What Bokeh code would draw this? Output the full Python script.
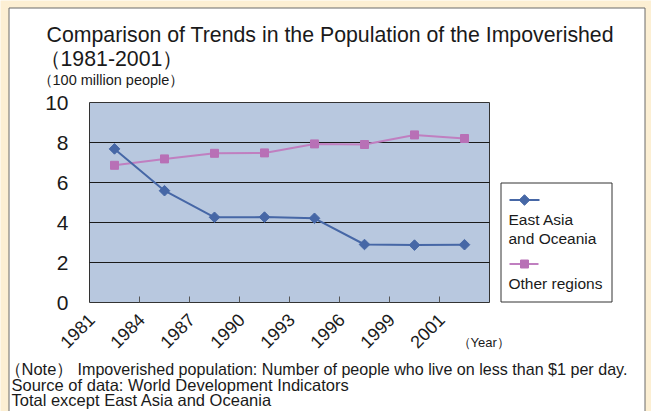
from math import pi

from bokeh.core.properties import value
from bokeh.embed import file_html
from bokeh.models import Range1d
from bokeh.plotting import figure
from bokeh.resources import INLINE

# ---- data -----------------------------------------------------------------
years = ["1981", "1984", "1987", "1990", "1993", "1996", "1999", "2001"]
east_asia = [7.68, 5.59, 4.26, 4.27, 4.21, 2.90, 2.87, 2.89]       # 100 million people
other_regions = [6.86, 7.18, 7.46, 7.48, 7.93, 7.90, 8.38, 8.20]   # 100 million people
y_ticks = [0, 2, 4, 6, 8, 10]
series_names = ["East Asia\nand Oceania", "Other regions"]

title_lines = ["Comparison of Trends in the Population of the Impoverished",
               "（1981-2001）"]
unit_label = "（100 million people）"
x_unit_label = "（Year）"
note_tag = "（Note）"
notes = ["Impoverished population: Number of people who live on less than $1 per day.",
         "Source of data: World Development Indicators",
         "Total except East Asia and Oceania"]

# ---- layout / style -------------------------------------------------------
W, H = 651, 411
PLOT_L, PLOT_R, PLOT_T, PLOT_B = 89, 489, 102, 302      # plot area in pixels
FONT = "Liberation Sans"
PEACH = "#FCEFD3"
PLOT_BG = "#B8C8DF"
BLUE = "#4667A6"
PINK = "#C07FC0"
PINK_MARK = "#B870B6"
TEXT = "#1a1a1a"

n = len(years)
ux = (PLOT_R - PLOT_L) / n                           # pixels per category
uy = (PLOT_B - PLOT_T) / (y_ticks[-1] - y_ticks[0])  # pixels per unit

# the frame fills the whole canvas; data ranges are set so that the
# category axis 0..n and the value axis 0..10 land on the plot area
p = figure(
    width=W, height=H, output_backend="svg", toolbar_location=None, title=None,
    x_axis_type=None, y_axis_type=None,
    x_range=Range1d(-PLOT_L / ux, (W - PLOT_L) / ux),
    y_range=Range1d(y_ticks[0] - (H - PLOT_B) / uy, y_ticks[0] + PLOT_B / uy),
    min_border=0, min_border_left=0, min_border_right=0,
    min_border_top=0, min_border_bottom=0,
    background_fill_color=PEACH, border_fill_color=PEACH, outline_line_color=None,
)
# pixel coordinates (origin top-left) for the page furniture
p.extra_x_ranges = {"px": Range1d(0, W)}
p.extra_y_ranges = {"px": Range1d(H, 0)}
PX = dict(x_range_name="px", y_range_name="px")


def px_text(x, y, text, size, align="left"):
    """Text placed by the vertical middle of its line, in pixel coordinates."""
    p.text(x=[x], y=[y], text=[text], text_font=value(FONT),
           text_font_size=value(size), text_color=TEXT,
           text_baseline="middle", text_align=align, **PX)


# white panel with a grey border
p.quad(left=[8.5], right=[644.5], top=[7.5], bottom=[H + 20],
       fill_color="white", line_color="#6b6b6b", line_width=1, **PX)

# plot area
p.quad(left=[0], right=[n], bottom=[y_ticks[0]], top=[y_ticks[-1]],
       fill_color=PLOT_BG, line_color="#333333", line_width=1)
grid = y_ticks[1:-1]
p.segment(x0=[0] * len(grid), x1=[n] * len(grid), y0=grid, y1=grid,
          line_color="#1a1a1a", line_width=1)

# category ticks (pointing into the plot area)
tick_x = list(range(1, n))
p.segment(x0=tick_x, x1=tick_x, y0=[0] * len(tick_x), y1=[6 / uy] * len(tick_x),
          line_color="#555555", line_width=1)

# value axis labels
p.text(x=[0] * len(y_ticks), y=y_ticks, text=[str(t) for t in y_ticks],
       x_offset=-21, text_align="right", text_baseline="middle",
       text_font=value(FONT), text_font_size=value("21px"), text_color=TEXT)

# year labels, rotated, ending at the category boundaries
p.text(x=list(range(n)), y=[0] * n, text=years, angle=pi / 4,
       x_offset=2, y_offset=14, text_align="right", text_baseline="middle",
       text_font=value(FONT), text_font_size=value("18px"), text_color=TEXT)

# series
x_pos = [i + 0.5 for i in range(n)]
p.line(x_pos, other_regions, line_color=PINK, line_width=2)
p.scatter(x_pos, other_regions, marker="square", size=8,
          fill_color=PINK_MARK, line_color=PINK_MARK)
p.line(x_pos, east_asia, line_color=BLUE, line_width=2)
p.scatter(x_pos, east_asia, marker="square", angle=pi / 4, size=7.5,
          fill_color=BLUE, line_color=BLUE)

# legend
p.quad(left=[500.5], right=[611.5], top=[182.5], bottom=[301.5],
       fill_color="white", line_color="#333333", line_width=1, **PX)
p.segment(x0=[509], x1=[539], y0=[199.5], y1=[199.5], line_color=BLUE, line_width=2, **PX)
p.scatter(x=[524], y=[199.5], marker="square", angle=pi / 4, size=7.5,
          fill_color=BLUE, line_color=BLUE, **PX)
p.segment(x0=[509], x1=[538], y0=[263.5], y1=[263.5], line_color=PINK, line_width=2, **PX)
p.scatter(x=[524], y=[263.5], marker="square", size=8,
          fill_color=PINK_MARK, line_color=PINK_MARK, **PX)
ea_lines = series_names[0].split("\n")
px_text(508, 219, ea_lines[0], "15.5px")
px_text(508, 237.5, ea_lines[1], "15.5px")
px_text(508, 282.5, series_names[1], "15.5px")

# titles and unit labels
px_text(46, 34.5, title_lines[0], "21.3px")
px_text(39, 58, title_lines[1], "21.3px")
px_text(37, 79.5, unit_label, "14.5px")
px_text(457, 341.5, x_unit_label, "13px")

# notes
px_text(4, 368, note_tag, "16.5px")
px_text(77, 368, notes[0], "16.1px")
px_text(11, 384, notes[1], "16.5px")
px_text(11, 399.5, notes[2], "16.5px")

open("out.html", "w").write(file_html(p, INLINE))
